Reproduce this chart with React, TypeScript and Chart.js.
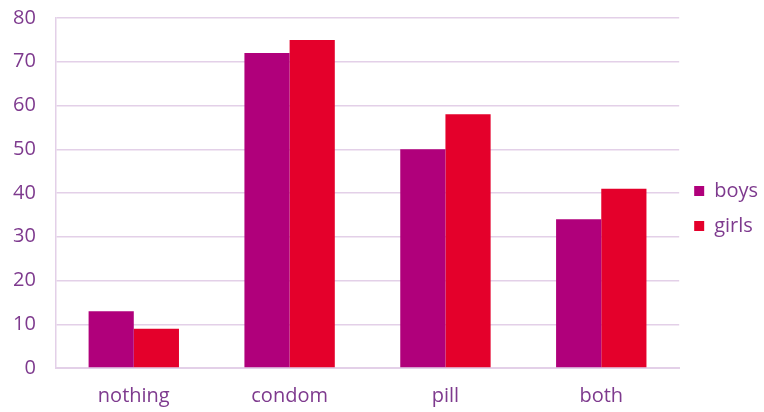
import React, { useEffect, useRef } from "react";
import { Chart, registerables } from "chart.js";

Chart.register(...registerables);

const categories = ["nothing", "condom", "pill", "both"];
const boys = [13, 72, 50, 34];
const girls = [9, 75, 58, 41];
const yTicks = [0, 10, 20, 30, 40, 50, 60, 70, 80];

const TEXT = "#7e3a8e";
const GRID = "#e3d0e8";
const FONT = "Open Sans";

export default function App() {
  const ref = useRef<HTMLCanvasElement | null>(null);
  useEffect(() => {
    document.body.style.margin = "0";
    const chart = new Chart(ref.current!, {
      type: "bar",
      data: {
        labels: categories,
        datasets: [
          { label: "boys", data: boys, backgroundColor: "#b0007b", borderWidth: 0 },
          { label: "girls", data: girls, backgroundColor: "#e4002b", borderWidth: 0 },
        ],
      },
      options: {
        animation: false,
        responsive: false,
        layout: { padding: { left: -7, top: 0, right: -4, bottom: -12 } },
        datasets: { bar: { categoryPercentage: 0.58, barPercentage: 1 } },
        plugins: {
          legend: {
            position: "right",
            title: { display: true, text: " ", font: { size: 6 }, padding: 0 },
            labels: {
              boxWidth: 10,
              boxHeight: 10,
              color: TEXT,
              font: { family: FONT, size: 20 },
              padding: 15,
            },
          },
          tooltip: { enabled: false },
        },
        scales: {
          x: {
            grid: { display: false, drawTicks: false },
            border: { display: true, color: GRID, width: 2 },
            ticks: { color: TEXT, font: { family: FONT, size: 20 }, padding: 16 },
          },
          y: {
            min: 0,
            max: 80,
            afterBuildTicks: (axis: any) => {
              axis.ticks = yTicks.map((v) => ({ value: v }));
            },
            grid: { color: GRID, lineWidth: 1.5, drawTicks: false },
            border: { display: true, color: GRID, width: 1.5 },
            ticks: { color: TEXT, font: { family: FONT, size: 20 }, padding: 20 },
          },
        },
      },
    });
    return () => chart.destroy();
  }, []);
  return (
    <div style={{ position: "absolute", left: 0, top: 0, width: 764, height: 412, overflow: "hidden" }}>
      <canvas ref={ref} width={764} height={426} style={{ position: "absolute", left: 0, top: -14 }} />
    </div>
  );
}
